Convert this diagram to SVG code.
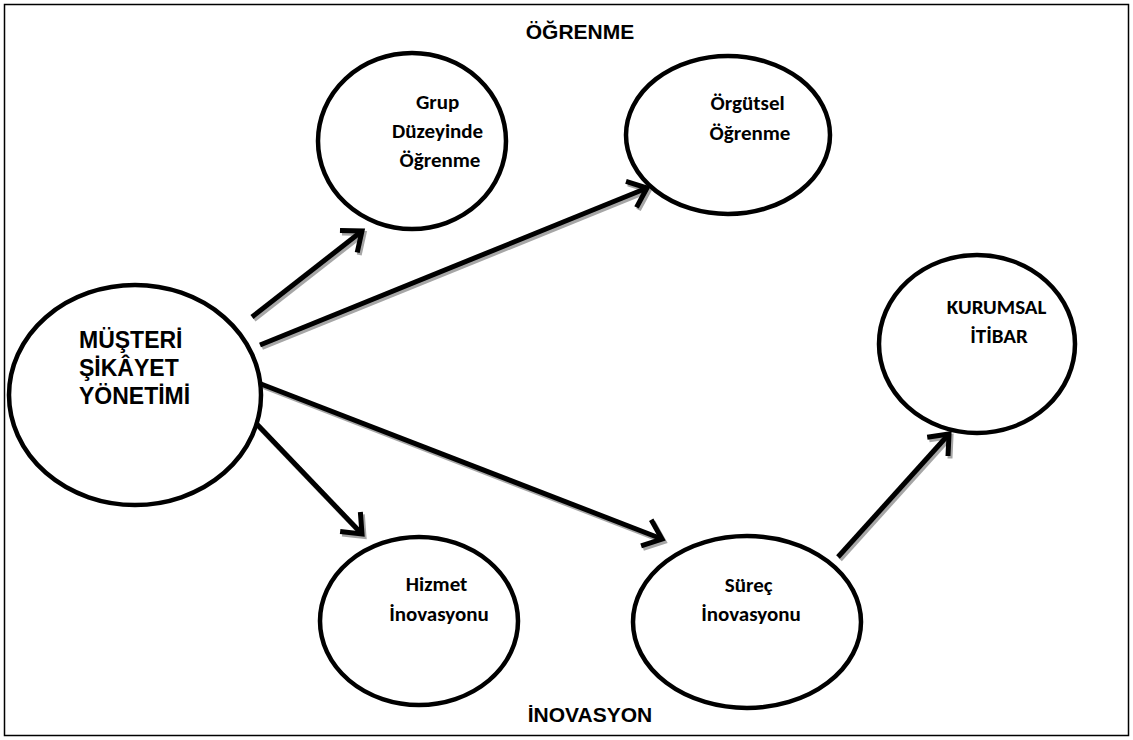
<svg xmlns="http://www.w3.org/2000/svg" width="1133" height="740" viewBox="0 0 1133 740">
  <style>
    .frame { fill: #ffffff; stroke: #000000; stroke-width: 1.5; }
    .node { fill: #ffffff; stroke: #000000; stroke-width: 4.5; }
    .cal { font-family: Carlito, Lato, "Open Sans", sans-serif; font-weight: 700; font-size: 21px; fill: #000000; text-anchor: middle; }
    .ari { font-family: "Liberation Sans", Arial, sans-serif; font-weight: 700; fill: #000000; }
    .shaft { fill: none; stroke: #000000; stroke-width: 5; marker-end: url(#head); }
    .shadow .shaft { stroke: #a6a6a6; marker-end: url(#headShadow); }
  </style>
  <defs>
    <marker id="head" markerUnits="userSpaceOnUse" refX="0" refY="0" orient="auto" overflow="visible" markerWidth="1" markerHeight="1">
      <path d="M -17 -14 L 0 0 L -17 14" fill="none" stroke="#000000" stroke-width="5" stroke-linejoin="miter"/>
    </marker>
    <marker id="headShadow" markerUnits="userSpaceOnUse" refX="0" refY="0" orient="auto" overflow="visible" markerWidth="1" markerHeight="1">
      <path d="M -17 -14 L 0 0 L -17 14" fill="none" stroke="#a6a6a6" stroke-width="5" stroke-linejoin="miter"/>
    </marker>
  </defs>

  <rect class="frame" x="4.5" y="4.5" width="1124" height="731"/>

  <text class="ari" x="580" y="39" font-size="21" text-anchor="middle">ÖĞRENME</text>
  <text class="ari" x="590" y="722" font-size="21" text-anchor="middle">İNOVASYON</text>

  <!-- connectors: grey drop shadow first, black arrows on top -->
  <g id="connectors">
    <g class="shadow" transform="translate(2,2.5)">
      <path class="shaft" d="M 252 317 L 362 231"/>
      <path class="shaft" d="M 260 345 L 647 188"/>
      <path class="shaft" d="M 261 384 L 662 539"/>
      <path class="shaft" d="M 251 418 L 362 534"/>
      <path class="shaft" d="M 838 557 L 949 434"/>
    </g>
    <g>
      <path class="shaft" d="M 252 317 L 362 231"/>
      <path class="shaft" d="M 260 345 L 647 188"/>
      <path class="shaft" d="M 261 384 L 662 539"/>
      <path class="shaft" d="M 251 418 L 362 534"/>
      <path class="shaft" d="M 838 557 L 949 434"/>
    </g>
  </g>

  <g id="musteri-sikayet">
    <ellipse class="node" cx="135" cy="395" rx="126" ry="110"/>
    <text class="ari" font-size="23">
      <tspan x="79" y="348">MÜŞTERİ</tspan>
      <tspan x="79" y="376">ŞİKÂYET</tspan>
      <tspan x="79" y="404">YÖNETİMİ</tspan>
    </text>
  </g>

  <g id="grup-ogrenme">
    <ellipse class="node" cx="412" cy="141" rx="94" ry="88"/>
    <text class="cal">
      <tspan x="440" y="109">Grup</tspan>
      <tspan x="440" y="138">Düzeyinde</tspan>
      <tspan x="440" y="167">Öğrenme</tspan>
    </text>
  </g>

  <g id="orgutsel-ogrenme">
    <ellipse class="node" cx="728" cy="135" rx="102" ry="79"/>
    <text class="cal">
      <tspan x="750" y="110">Örgütsel</tspan>
      <tspan x="750" y="140">Öğrenme</tspan>
    </text>
  </g>

  <g id="kurumsal-itibar">
    <ellipse class="node" cx="977" cy="344" rx="98" ry="89"/>
    <text class="cal">
      <tspan x="999" y="314">KURUMSAL</tspan>
      <tspan x="999" y="343">İTİBAR</tspan>
    </text>
  </g>

  <g id="hizmet-inovasyonu">
    <ellipse class="node" cx="419" cy="621" rx="99" ry="84"/>
    <text class="cal">
      <tspan x="439" y="591">Hizmet</tspan>
      <tspan x="439" y="621">İnovasyonu</tspan>
    </text>
  </g>

  <g id="surec-inovasyonu">
    <ellipse class="node" cx="747" cy="622" rx="114" ry="86"/>
    <text class="cal">
      <tspan x="751" y="592">Süreç</tspan>
      <tspan x="751" y="621">İnovasyonu</tspan>
    </text>
  </g>
</svg>
